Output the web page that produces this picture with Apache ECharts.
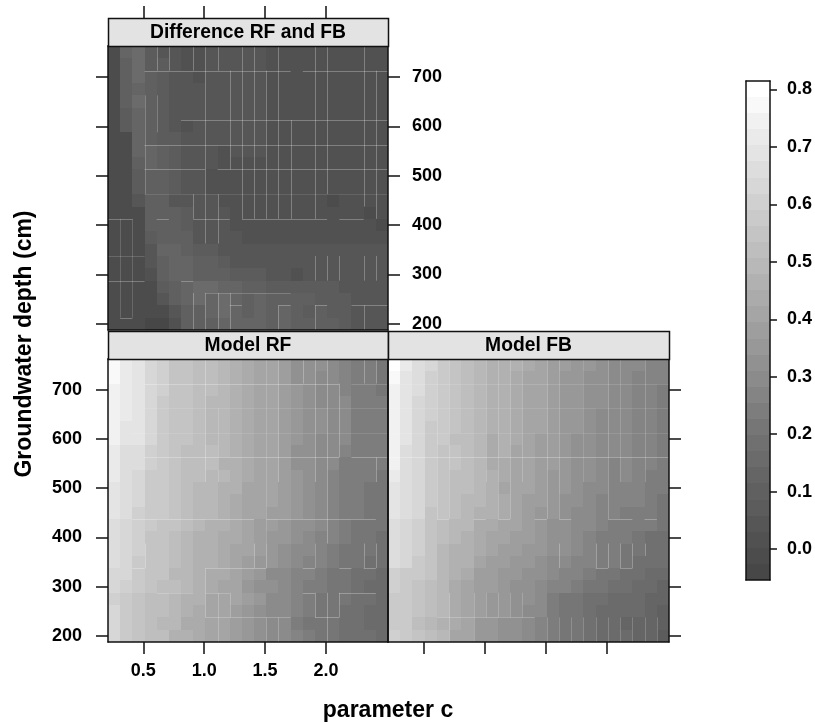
<!DOCTYPE html>
<html><head><meta charset="utf-8">
<style>html,body{margin:0;padding:0;background:#fff}#c{width:815px;height:723px}</style>
<script src="https://cdn.jsdelivr.net/npm/echarts@6/dist/echarts.min.js"></script>
</head><body><div id="c"></div>
<script>
const cValues=[.26,.36,.46,.56,.66,.76,.86,.96,1.06,1.16,1.26,1.36,1.46,1.56,1.66,1.76,1.86,1.96,2.06,2.16,2.26,2.36,2.46];
const depths=[750,725,700,675,650,625,600,575,550,525,500,475,450,425,400,375,350,325,300,275,250,225,200];
const xTicks=[0.5,1.0,1.5,2.0];
const yTicks=[200,300,400,500,600,700];
const legendTicks=[0,.1,.2,.3,.4,.5,.6,.7,.8];
const legendMin=-.0535, legendMax=.8144;
const bandGrays=[71,76,81,86,92,96,101,107,112,118,125,132,139,145,152,158,165,171,177,184,190,196,202,208,215,221,228,234,241,249,255];
const diffRF_FB=[
[.00,.13,.15,.07,.05,.04,.02,.02,.04,.04,.04,.04,.04,.02,.02,.01,.01,.01,.01,.01,.01,.01,.01],
[.00,.11,.16,.07,.06,.04,.02,.02,.04,.04,.04,.04,.04,.02,.02,.01,.01,.01,.01,.01,.01,.01,.01],
[.00,.11,.16,.09,.06,.05,.04,.02,.04,.04,.04,.04,.04,.02,.02,.01,.01,.01,.01,.01,.01,.01,.01],
[.00,.10,.12,.10,.06,.05,.04,.04,.04,.04,.04,.04,.04,.02,.02,.02,.01,.01,.01,.01,.01,.01,.01],
[.00,.10,.15,.10,.06,.05,.04,.04,.04,.04,.04,.04,.04,.02,.02,.02,.01,.01,.01,.01,.01,.01,.01],
[.00,.07,.13,.11,.06,.05,.04,.04,.04,.04,.04,.04,.04,.02,.02,.02,.01,.01,.01,.01,.01,.01,.01],
[.00,.07,.13,.10,.06,.05,.02,.04,.04,.04,.04,.04,.04,.02,.02,.02,.01,.01,.01,.01,.01,.01,.01],
[.00,.00,.13,.10,.07,.06,.04,.04,.04,.04,.04,.04,.04,.02,.02,.02,.02,.01,.01,.01,.01,.01,.01],
[.00,.00,.12,.12,.09,.06,.04,.04,.04,.02,.04,.04,.04,.02,.02,.02,.02,.01,.01,.01,.01,.01,.01],
[.00,.00,.11,.12,.09,.06,.04,.04,.04,.02,.02,.02,.02,.02,.02,.02,.02,.01,.01,.01,.01,.01,.01],
[.00,.00,.07,.10,.10,.07,.05,.04,.02,.02,.02,.02,.02,.02,.02,.02,.02,.01,.01,.01,.01,.01,.01],
[.00,.00,.07,.10,.10,.07,.05,.04,.02,.02,.02,.02,.02,.02,.02,.02,.02,.02,.01,.01,.01,.01,.01],
[.00,.00,.04,.11,.10,.05,.05,.04,.04,.02,.02,.02,.02,.02,.02,.02,.02,.02,.00,.02,.01,.01,.01],
[.00,.00,.00,.11,.10,.11,.06,.04,.04,.04,.02,.02,.02,.02,.02,.02,.02,.02,.02,.02,.02,.00,.01],
[.00,.00,-.02,.11,.11,.11,.07,.04,.04,.04,.02,.02,.02,.02,.02,.02,.02,.02,.02,.02,.02,.02,.00],
[.00,.00,-.02,.06,.11,.11,.09,.05,.05,.04,.04,.02,.02,.02,.02,.02,.02,.02,.02,.02,.02,.02,.02],
[.00,.00,-.02,.05,.12,.13,.10,.06,.06,.05,.05,.05,.05,.04,.04,.04,.04,.04,.04,.04,.04,.04,.04],
[.00,.00,-.02,.04,.11,.13,.12,.10,.10,.06,.05,.05,.04,.04,.04,.04,.04,.04,.04,.04,.04,.04,.04],
[.00,.00,-.02,.01,.10,.13,.12,.11,.11,.10,.07,.06,.06,.05,.05,.02,.04,.04,.04,.04,.04,.04,.04],
[.00,.00,.00,-.02,.07,.11,.12,.15,.15,.12,.12,.10,.10,.07,.07,.06,.06,.06,.06,.04,.04,.04,.04],
[.00,.00,.00,-.02,.05,.09,.12,.15,.12,.15,.13,.11,.12,.11,.10,.10,.09,.07,.07,.07,.05,.05,.05],
[.00,.00,.00,-.02,.00,.05,.11,.11,.12,.15,.13,.11,.12,.11,.12,.10,.07,.10,.07,.07,.05,.05,.05],
[.00,.00,.00,-.03,-.03,.01,.09,.10,.11,.13,.12,.12,.12,.11,.12,.10,.09,.10,.09,.07,.05,.05,.05]
];
const modelRF=[
[.78,.72,.69,.63,.60,.56,.55,.51,.51,.49,.475,.44,.42,.40,.385,.335,.335,.325,.29,.27,.235,.235,.225],
[.78,.72,.69,.63,.60,.56,.55,.51,.51,.49,.475,.44,.42,.40,.385,.335,.325,.305,.29,.28,.24,.24,.215],
[.75,.71,.69,.63,.60,.56,.54,.52,.51,.48,.465,.44,.42,.40,.375,.35,.315,.305,.29,.28,.24,.24,.225],
[.75,.71,.69,.63,.59,.55,.54,.51,.50,.48,.465,.44,.42,.40,.375,.35,.325,.305,.30,.29,.24,.24,.235],
[.75,.71,.69,.63,.59,.55,.54,.51,.50,.48,.465,.44,.42,.40,.375,.36,.335,.315,.30,.29,.25,.24,.235],
[.75,.68,.69,.63,.59,.55,.54,.51,.50,.48,.465,.43,.41,.395,.375,.36,.335,.315,.30,.29,.25,.24,.235],
[.75,.68,.69,.63,.59,.56,.54,.51,.50,.48,.465,.43,.41,.395,.37,.35,.325,.305,.30,.29,.24,.24,.235],
[.73,.67,.67,.60,.58,.56,.53,.51,.51,.48,.465,.43,.41,.395,.37,.335,.325,.305,.30,.28,.24,.24,.235],
[.73,.67,.65,.60,.58,.55,.53,.51,.51,.475,.465,.43,.41,.395,.37,.335,.325,.305,.30,.25,.24,.235,.235],
[.73,.67,.63,.58,.57,.54,.53,.52,.50,.48,.465,.43,.42,.395,.37,.35,.325,.305,.28,.24,.235,.235,.225],
[.69,.67,.63,.59,.58,.54,.51,.50,.49,.465,.455,.42,.41,.395,.37,.34,.325,.30,.28,.24,.235,.225,.205],
[.69,.67,.63,.59,.57,.54,.51,.50,.49,.465,.44,.42,.395,.395,.37,.34,.325,.30,.28,.24,.235,.225,.205],
[.69,.67,.60,.59,.57,.54,.51,.50,.48,.465,.44,.41,.395,.375,.37,.34,.315,.30,.27,.24,.235,.225,.205],
[.67,.63,.60,.58,.56,.54,.51,.49,.475,.455,.43,.41,.375,.375,.36,.335,.315,.29,.27,.24,.225,.225,.205],
[.67,.64,.61,.56,.56,.52,.50,.475,.465,.44,.43,.40,.37,.36,.34,.315,.30,.28,.26,.235,.225,.215,.195],
[.67,.64,.61,.56,.54,.51,.50,.475,.455,.43,.42,.395,.37,.36,.325,.305,.29,.28,.25,.215,.215,.205,.195],
[.67,.64,.58,.56,.54,.51,.49,.475,.455,.43,.41,.375,.35,.34,.315,.30,.28,.27,.235,.215,.205,.195,.185],
[.64,.62,.57,.56,.54,.50,.49,.475,.44,.43,.40,.37,.35,.305,.30,.28,.27,.235,.225,.215,.195,.195,.165],
[.63,.61,.57,.54,.51,.51,.48,.455,.43,.41,.395,.35,.335,.325,.30,.26,.235,.235,.225,.205,.195,.165,.165],
[.61,.59,.55,.53,.51,.50,.475,.455,.42,.40,.395,.37,.34,.305,.30,.26,.235,.225,.225,.205,.175,.175,.145],
[.62,.58,.54,.51,.51,.48,.465,.44,.42,.395,.375,.36,.335,.305,.29,.26,.235,.215,.205,.195,.175,.165,.145],
[.62,.58,.55,.51,.48,.49,.44,.43,.41,.395,.375,.36,.325,.30,.29,.24,.225,.215,.205,.185,.175,.155,.155],
[.62,.58,.55,.51,.51,.475,.455,.43,.40,.395,.37,.36,.335,.30,.29,.26,.24,.215,.215,.195,.185,.175,.155]
];
const modelFB=[
[.80,.71,.67,.63,.59,.56,.52,.49,.455,.475,.455,.43,.40,.385,.37,.35,.34,.325,.305,.30,.29,.27,.27],
[.76,.68,.66,.61,.58,.55,.52,.49,.455,.475,.44,.42,.40,.375,.36,.35,.335,.325,.30,.30,.28,.27,.26],
[.75,.68,.67,.60,.57,.55,.52,.49,.455,.465,.44,.42,.395,.375,.36,.34,.335,.315,.30,.30,.28,.27,.25],
[.75,.68,.63,.60,.57,.54,.51,.48,.455,.455,.43,.41,.395,.375,.36,.34,.325,.315,.30,.29,.28,.27,.25],
[.75,.68,.63,.60,.57,.54,.51,.48,.455,.455,.43,.41,.395,.375,.35,.34,.325,.305,.30,.29,.28,.27,.25],
[.75,.68,.63,.59,.57,.54,.51,.48,.455,.455,.43,.41,.395,.37,.35,.34,.325,.305,.30,.29,.27,.26,.25],
[.75,.68,.63,.59,.57,.53,.51,.48,.44,.455,.43,.41,.385,.37,.35,.335,.325,.305,.29,.29,.27,.26,.25],
[.75,.67,.63,.59,.56,.54,.51,.48,.44,.455,.42,.40,.385,.37,.35,.335,.315,.305,.29,.29,.27,.26,.24],
[.75,.67,.63,.59,.56,.54,.51,.48,.44,.44,.42,.40,.385,.37,.35,.335,.315,.305,.28,.29,.27,.26,.24],
[.72,.67,.62,.59,.55,.53,.52,.49,.465,.43,.42,.40,.385,.36,.36,.325,.315,.29,.28,.29,.27,.25,.24],
[.69,.67,.62,.59,.55,.53,.51,.48,.465,.42,.41,.40,.375,.36,.35,.325,.305,.29,.28,.27,.26,.25,.23],
[.69,.67,.62,.58,.55,.53,.49,.48,.455,.43,.41,.385,.375,.36,.335,.315,.305,.28,.28,.27,.26,.25,.22],
[.69,.66,.62,.56,.54,.52,.49,.465,.455,.43,.395,.375,.36,.35,.335,.305,.29,.28,.26,.25,.25,.24,.22],
[.67,.63,.61,.55,.52,.50,.48,.44,.44,.40,.395,.37,.36,.335,.335,.305,.29,.26,.25,.24,.23,.23,.20],
[.66,.63,.61,.55,.51,.50,.465,.43,.42,.40,.385,.37,.35,.335,.325,.305,.27,.25,.24,.235,.215,.195,.195],
[.66,.62,.60,.55,.48,.475,.455,.43,.395,.385,.375,.36,.35,.325,.315,.29,.27,.25,.24,.215,.205,.185,.185],
[.66,.62,.57,.54,.48,.465,.455,.40,.375,.37,.36,.35,.335,.305,.30,.28,.26,.24,.235,.205,.195,.185,.175],
[.61,.59,.57,.54,.48,.455,.44,.385,.37,.35,.35,.325,.315,.30,.28,.26,.24,.215,.205,.195,.185,.165,.155],
[.61,.58,.55,.52,.49,.43,.42,.375,.37,.34,.335,.315,.305,.28,.26,.24,.225,.205,.195,.175,.165,.165,.12],
[.59,.58,.54,.51,.48,.43,.41,.375,.36,.35,.335,.315,.305,.24,.225,.215,.195,.175,.165,.155,.155,.13,.12],
[.59,.57,.54,.51,.48,.43,.41,.37,.36,.34,.325,.305,.29,.24,.225,.205,.195,.165,.165,.155,.145,.12,.11],
[.59,.57,.52,.49,.455,.43,.41,.36,.35,.325,.315,.30,.28,.235,.215,.205,.175,.165,.155,.13,.13,.12,.10],
[.60,.57,.54,.51,.48,.42,.40,.36,.35,.335,.315,.29,.28,.235,.215,.205,.185,.155,.155,.145,.13,.12,.08]
];
// thin light seams between cells, by cell-edge index: [edge, from, to, strength]
const diffSeamsH=[[2,3,15,1],[2,16,23,1],[6,6,23,1],[8,3,23,1],[10,3,8,1],[10,9,23,1],[12,3,23,.4],[14,0,2,1],[14,4,5,1],[14,7,10,1],[14,11,18,1],[14,19,21,1],[17,0,3,.6],[19,0,3,1],[19,6,7,1],[20,8,15,.7],[21,10,11,1],[21,14,15,1],[21,17,18,1],[21,20,23,1],[22,1,2,1]];
const diffSeamsV=[[4,0,2,1],[5,0,2,1],[7,0,2,1],[8,0,2,1],[9,0,2,1],[11,0,2,1],[12,0,2,1],[14,0,2,1],[17,0,2,1],[18,0,2,1],[21,0,2,1],[3,4,12,.8],[4,4,7,.8],[8,2,10,1],[10,2,10,1],[11,2,14,1],[12,2,14,1],[13,2,14,1],[14,2,14,1],[15,6,14,1],[17,2,14,1],[18,2,12,1],[21,2,13,1],[22,2,14,1],[7,12,14,1],[8,10,16,1],[9,12,16,1],[1,14,22,.6],[2,14,22,.6],[17,17,19,1],[18,17,19,1],[19,17,19,1],[21,17,19,1],[22,17,19,1],[7,20,23,1],[8,20,23,1],[9,20,23,1],[10,20,23,1],[14,21,23,1],[17,21,23,1],[21,21,23,1]];
const rfSeamsH=[[2,3,19,1],[2,20,23,.6],[4,3,23,.4],[6,2,23,.4],[8,3,19,1],[8,20,23,1],[13,2,12,1],[13,13,22,1],[17,2,3,1],[17,8,13,1],[17,16,17,1],[17,19,20,1],[17,21,22,1],[19,4,7,.7],[19,8,10,.7],[19,16,17,1],[19,19,22,1],[21,8,13,.8],[21,13,15,.8],[21,17,19,1]];
const rfSeamsV=[[8,0,10,1],[9,4,10,.6],[13,0,15,.6],[14,0,10,1],[16,0,2,1],[17,0,10,1],[18,0,15,1],[19,2,8,1],[21,0,2,1],[22,0,2,1],[22,8,10,1],[3,15,17,1],[8,17,21,1],[9,19,23,.8],[10,19,21,.8],[12,15,17,1],[13,15,17,1],[13,21,23,.8],[14,21,23,.8],[17,19,21,1],[18,19,23,1],[19,19,21,1],[17,15,17,.8],[21,15,17,1],[22,15,17,1]];
const fbSeamsH=[[2,0,23,.5],[4,0,23,.4],[6,0,23,.4],[8,0,23,1],[13,4,5,1],[13,7,8,1],[13,9,10,1],[13,12,13,1],[13,14,15,1],[13,18,20,1],[13,21,22,1],[17,17,18,1],[17,19,20,1],[21,4,12,.8]];
const fbSeamsV=[[4,0,13,.7],[5,0,10,.7],[5,10,13,.7],[8,0,10,.7],[9,0,13,.7],[10,0,13,.8],[11,0,10,.7],[13,0,13,.8],[14,0,13,.8],[16,0,10,.5],[18,0,13,.8],[19,0,10,.6],[21,0,10,.7],[14,15,17,1],[17,15,17,1],[18,15,17,1],[19,15,17,1],[20,15,17,1],[21,15,16,1],[5,19,23,1],[7,19,23,.7],[8,19,21,.7],[9,19,21,.7],[10,19,21,.7],[11,19,21,.7],[13,21,23,.7],[14,21,23,.7],[15,21,23,.7],[16,21,23,.7],[17,21,23,.7],[18,21,23,.7],[19,21,23,.7],[20,21,23,.7],[21,21,23,.7],[22,21,23,.7]];
const panelTitles=['Difference RF and FB','Model RF','Model FB'];
const panelMatrices=[diffRF_FB,modelRF,modelFB];
const panelSeamsH=[diffSeamsH,rfSeamsH,fbSeamsH];
const panelSeamsV=[diffSeamsV,rfSeamsV,fbSeamsV];

// --- styles & layout ---
const FONT='"Liberation Sans",Arial,sans-serif', INK='#111';
const legendBands=bandGrays.length;
function band(v){const t=(v-legendMin)/(legendMax-legendMin);return Math.max(0,Math.min(legendBands-1,Math.floor(t*legendBands)));}
function bandColor(i){const g=bandGrays[i];return 'rgb('+g+','+g+','+g+')';}
const panels=[
 {left:108,top:46,width:280,height:284,leftLabels:false,rightTicks:true,rightLabels:true,leftTicks:true,bottomTicks:false,bottomLabels:false,upperTicks:true},
 {left:108,top:359,width:280,height:283,leftLabels:true,leftTicks:true,rightTicks:false,rightLabels:false,bottomTicks:true,bottomLabels:true,upperTicks:false},
 {left:388,top:359,width:281,height:283,leftLabels:false,leftTicks:false,rightTicks:true,rightLabels:false,bottomTicks:true,bottomLabels:false,upperTicks:false}
];
const STRIP_H=28, TICK=12;
const xRange=[.21,2.51], yRange=[187.5,762.5];
const CELL_W=.1, CELL_H=25;
const edgeX=k=>xRange[0]+k*CELL_W, edgeY=r=>yRange[1]-r*CELL_H;
const grids=[],xAxes=[],yAxes=[],series=[],graphics=[];
const lineStyle={color:INK,width:1.5};
const labelFont={color:'#000',fontFamily:FONT,fontWeight:'bold',fontSize:18};
panels.forEach((p,pi)=>{
  grids.push({left:p.left,top:p.top,width:p.width,height:p.height,containLabel:false});
  const xBase={type:'value',gridIndex:pi,min:xRange[0],max:xRange[1],splitLine:{show:false},z:10};
  const yBase={type:'value',gridIndex:pi,min:yRange[0],max:yRange[1],splitLine:{show:false},z:10};
  const tk=(on)=>({show:on,length:TICK,inside:false,customValues:xTicks,lineStyle});
  const ytk=(on)=>({show:on,length:TICK,inside:false,customValues:yTicks,lineStyle});
  const xi=xAxes.length, yi=yAxes.length;
  xAxes.push(Object.assign({},xBase,{position:'bottom',axisLine:{show:true,onZero:false,lineStyle},axisTick:tk(p.bottomTicks),
    axisLabel:{show:p.bottomLabels,margin:20,customValues:xTicks,formatter:v=>Number(v).toFixed(1),...labelFont}}));
  xAxes.push(Object.assign({},xBase,{position:'top',axisLine:{show:true,onZero:false,lineStyle},axisTick:{show:false},axisLabel:{show:false}}));
  if(p.upperTicks) xAxes.push(Object.assign({},xBase,{position:'top',offset:STRIP_H,axisLine:{show:false,onZero:false},axisTick:tk(true),axisLabel:{show:false}}));
  yAxes.push(Object.assign({},yBase,{position:'left',axisLine:{show:true,onZero:false,lineStyle},axisTick:ytk(p.leftTicks),
    axisLabel:{show:p.leftLabels,margin:26,padding:[5,0,0,0],customValues:yTicks,...labelFont}}));
  yAxes.push(Object.assign({},yBase,{position:'right',axisLine:{show:true,onZero:false,lineStyle},axisTick:ytk(p.rightTicks),
    axisLabel:{show:p.rightLabels,margin:24,padding:[5,0,0,0],customValues:yTicks,...labelFont}}));
  const data=[];
  panelMatrices[pi].forEach((row,r)=>row.forEach((v,c)=>data.push([cValues[c],depths[r],v])));
  series.push({type:'custom',xAxisIndex:xi,yAxisIndex:yi,clip:true,silent:true,animation:false,z:2,data,
    encode:{x:0,y:1},
    renderItem:(params,api)=>{
      const x=api.value(0),y=api.value(1),v=api.value(2);
      const a=api.coord([x-CELL_W/2,y+CELL_H/2]),b=api.coord([x+CELL_W/2,y-CELL_H/2]);
      const l=Math.round(a[0]),t=Math.round(a[1]),r=Math.round(b[0]),bt=Math.round(b[1]);
      return {type:'rect',shape:{x:l,y:t,width:r-l,height:bt-t},style:{fill:bandColor(band(v))}};
    }});
  const seams=[];
  panelSeamsH[pi].forEach(s=>seams.push([edgeX(s[1]),edgeY(s[0]),edgeX(s[2]),edgeY(s[0]),s[3]]));
  panelSeamsV[pi].forEach(s=>seams.push([edgeX(s[0]),edgeY(s[1]),edgeX(s[0]),edgeY(s[2]),s[3]]));
  series.push({type:'custom',xAxisIndex:xi,yAxisIndex:yi,clip:true,silent:true,animation:false,z:3,data:seams,
    encode:{x:[0,2],y:[1,3]},
    renderItem:(params,api)=>{
      const a=api.coord([api.value(0),api.value(1)]),b=api.coord([api.value(2),api.value(3)]);
      const h=a[1]===b[1];
      return {type:'line',shape:{x1:h?a[0]:Math.round(a[0])+.5,y1:h?Math.round(a[1])+.5:a[1],x2:h?b[0]:Math.round(b[0])+.5,y2:h?Math.round(b[1])+.5:b[1]},
        style:{stroke:'rgba(255,255,255,'+(.27*api.value(4))+')',lineWidth:1}};
    }});
  graphics.push({type:'rect',z:20,shape:{x:p.left+.5,y:p.top-STRIP_H+.5,width:p.width,height:STRIP_H},style:{fill:'#e3e3e3',stroke:INK,lineWidth:1.5}});
  graphics.push({type:'text',z:21,style:{x:p.left+p.width/2,y:p.top-STRIP_H/2+1,text:panelTitles[pi],align:'center',verticalAlign:'middle',fontFamily:FONT,fontWeight:'bold',fontSize:19.3,fill:'#000'}});
});
// colour key
const kg=grids.length;
grids.push({left:746,top:81,width:25,height:499});
xAxes.push({type:'value',gridIndex:kg,min:0,max:1,axisLine:{show:true,onZero:false,lineStyle},axisTick:{show:false},axisLabel:{show:false},splitLine:{show:false},z:10});
xAxes.push({type:'value',gridIndex:kg,min:0,max:1,position:'top',axisLine:{show:true,onZero:false,lineStyle},axisTick:{show:false},axisLabel:{show:false},splitLine:{show:false},z:10});
const keyX0=xAxes.length-2;
yAxes.push({type:'value',gridIndex:kg,min:legendMin,max:legendMax,position:'left',axisLine:{show:true,onZero:false,lineStyle},axisTick:{show:false},axisLabel:{show:false},splitLine:{show:false},z:10});
yAxes.push({type:'value',gridIndex:kg,min:legendMin,max:legendMax,position:'right',axisLine:{show:true,onZero:false,lineStyle},
  axisTick:{show:true,length:7,customValues:legendTicks,lineStyle},
  axisLabel:{show:true,margin:17,padding:[3,0,0,0],customValues:legendTicks,formatter:v=>Number(v).toFixed(1),...labelFont},splitLine:{show:false},z:10});
const keyBands=[];
for(let i=0;i<legendBands;i++) keyBands.push([i]);
series.push({type:'custom',xAxisIndex:keyX0,yAxisIndex:yAxes.length-1,silent:true,animation:false,clip:true,z:2,data:keyBands,
  encode:{y:0},
  renderItem:(params,api)=>{
    const i=api.value(0),s=(legendMax-legendMin)/legendBands;
    const a=api.coord([0,legendMin+(i+1)*s]),b=api.coord([1,legendMin+i*s]);
    const t=Math.round(a[1]),bt=Math.round(b[1]);
    return {type:'rect',shape:{x:a[0],y:t,width:b[0]-a[0],height:bt-t},style:{fill:bandColor(i)}};
  }});
graphics.push({type:'text',z:21,style:{x:388,y:711,text:'parameter c',align:'center',verticalAlign:'middle',fontFamily:FONT,fontWeight:'bold',fontSize:23,fill:'#000'}});
graphics.push({type:'text',z:21,x:25,y:344,rotation:Math.PI/2,style:{x:0,y:0,text:'Groundwater depth (cm)',align:'center',verticalAlign:'middle',fontFamily:FONT,fontWeight:'bold',fontSize:23,fill:'#000'}});

const chart=echarts.init(document.getElementById('c'),null,{renderer:'canvas',width:815,height:723});
chart.setOption({animation:false,backgroundColor:'#fff',grid:grids,xAxis:xAxes,yAxis:yAxes,series,graphic:{elements:graphics}});
</script></body></html>
